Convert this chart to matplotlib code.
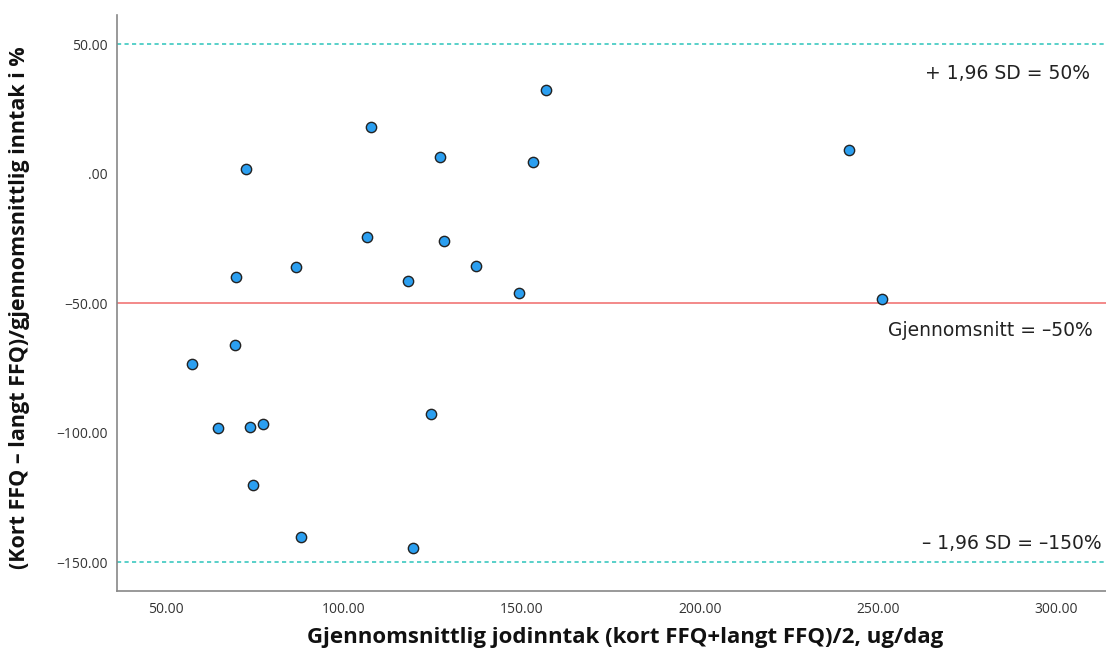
import matplotlib.pyplot as plt
import numpy as np

# mean intake (x) and relative difference in % (y)
mean_intake = [156.7, 107.5, 72.5, 127.0, 153.0, 241.9, 106.5, 128.0, 69.6, 86.7,
               117.9, 137.1, 149.1, 251.1, 57.5, 69.4, 64.6, 73.7, 77.2, 124.4,
               74.4, 88.1, 119.5]
diff_pct = [32.2, 18.0, 1.7, 6.3, 4.4, 9.0, -24.4, -25.9, -40.1, -36.2,
            -41.5, -35.8, -46.0, -48.6, -73.4, -66.2, -98.4, -97.9, -96.8, -92.9,
            -120.3, -140.2, -144.7]

mean_diff = -50
upper_loa = 50
lower_loa = -150
line_labels = ["+ 1,96 SD = 50%", "Gjennomsnitt = \u201350%", "\u2013 1,96 SD = \u2013150%"]

x_ticks = [50, 100, 150, 200, 250, 300]
y_ticks = [50, 0, -50, -100, -150]

plt.rcParams['font.family'] = ['Open Sans', 'DejaVu Sans']

fig = plt.figure(figsize=(11.06, 6.55), dpi=100)
ax = fig.add_axes([0.1058, 0.098, 0.894, 0.879])

ax.axhline(upper_loa, color='#3cc8c0', lw=1.2, ls=(0, (2.5, 2)))
ax.axhline(lower_loa, color='#3cc8c0', lw=1.2, ls=(0, (2.5, 2)))
ax.axhline(mean_diff, color='#f06a6a', lw=1.1)

ax.scatter(mean_intake, diff_pct, s=55, color='#2b9ff0', edgecolors='#222222',
           linewidths=1.0, zorder=3)

ann = dict(ha='right', va='center', fontsize=13.5, color='#222222', family='DejaVu Sans')
ax.text(309.6, 38.8, line_labels[0], **ann)
ax.text(310.4, -60.4, line_labels[1], **ann)
ax.text(312.9, -142.7, line_labels[2], **ann)

ax.set_xlim(36.3, 314)
ax.set_ylim(-161.1, 61.2)
ax.set_xticks(x_ticks)
ax.set_xticklabels([f"{v:.2f}" for v in x_ticks])
ax.set_yticks(y_ticks)
ax.set_yticklabels([(f"{v:.2f}" if v != 0 else ".00").replace('-', '\u2212') for v in y_ticks])
ax.tick_params(length=0, labelsize=10, colors='#333333')
ax.tick_params(axis='x', pad=8)
ax.tick_params(axis='y', pad=7)

for side in ['top', 'right']:
    ax.spines[side].set_visible(False)
for side in ['left', 'bottom']:
    ax.spines[side].set_color('#888888')
    ax.spines[side].set_linewidth(1.2)

fig.text(0.565, 0.026, "Gjennomsnittlig jodinntak (kort FFQ+langt FFQ)/2, ug/dag",
         ha='center', va='center', fontsize=16, fontweight='bold', color='#111111')
fig.text(0.018, 0.531, "(Kort FFQ \u2013 langt FFQ)/gjennomsnittlig inntak i %",
         ha='center', va='center', rotation=90, fontsize=15.5, fontweight='bold', color='#111111')

fig.savefig("out.png", dpi=100)
